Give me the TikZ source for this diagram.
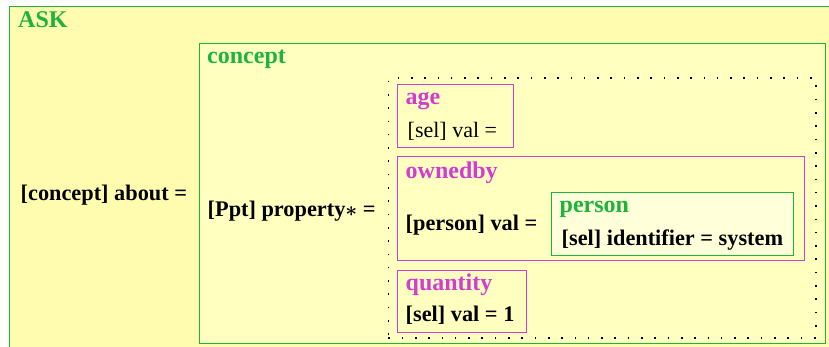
\documentclass[tikz,border=0pt]{standalone}
\usepackage{fontspec}
\setmainfont{Liberation Serif}
\definecolor{askfill}{RGB}{255,252,176}
\definecolor{conceptfill}{RGB}{255,255,192}
\definecolor{personfill}{RGB}{255,255,218}
\definecolor{grn}{RGB}{30,180,60}
\definecolor{mag}{RGB}{210,60,210}
\tikzset{
  box/.style={rectangle, inner sep=0pt, outer sep=0pt, anchor=north west, line width=1pt},
  greenbox/.style={box, draw=grn},
  magbox/.style={box, draw=mag},
  dotbox/.style={box, draw=black, line width=1.6pt, dash pattern=on 1.6pt off 11.7pt},
  ttl/.style={anchor=base west, inner sep=0pt, font=\fontsize{24}{28}\selectfont\bfseries},
  gttl/.style={ttl, text=grn},
  mttl/.style={ttl, text=mag},
  txt/.style={anchor=base west, inner sep=0pt, font=\fontsize{22.3}{26}\selectfont\bfseries},
  txtr/.style={anchor=base west, inner sep=0pt, font=\fontsize{22}{26}\selectfont}
}
\begin{document}
\begin{tikzpicture}[x=1pt,y=-1pt]
\useasboundingbox (0,0) rectangle (829,347);
\fill[white] (0,0) rectangle (829,347);
\begin{scope}
\clip (0,0) rectangle (829,347);
\node[greenbox, fill=askfill, minimum width=830pt, minimum height=350pt] (ask) at (9.5,6.5) {};
\end{scope}
\node[gttl] (asktitle) at (18,28) {ASK};
\node[txt] (about) at (20.5,200.5) {[concept] about =};
\node[greenbox, fill=conceptfill, minimum width=625.5pt, minimum height=299.5pt] (concept) at (199.5,43.5) {};
\node[gttl] (concepttitle) at (207,63.5) {concept};
\node[txt] (property) at (207.5,216.5) {[Ppt] property{\boldmath$\ast$} =};
\node[dotbox, minimum width=427.7pt, minimum height=259.4pt] (list) at (388.3,78.3) {};
% age
\node[magbox, minimum width=116pt, minimum height=63pt] (age) at (397.3,84.3) {};
\node[mttl] (agetitle) at (405.5,105) {age};
\node[txtr] (ageval) at (407.5,138) {[sel] val =};
% ownedby
\node[magbox, minimum width=407pt, minimum height=103.3pt] (ownedby) at (397.3,156.7) {};
\node[mttl] (ownedbytitle) at (405.5,178.3) {ownedby};
\node[txt] (personval) at (405.5,230) {[person] val =};
\node[greenbox, fill=personfill, minimum width=242pt, minimum height=63pt] (person) at (551.7,192.3) {};
\node[gttl] (persontitle) at (559.5,212.3) {person};
\node[txt] (ident) at (561.5,246) {[sel] identifier = system};
% quantity
\node[magbox, minimum width=129.4pt, minimum height=62pt] (quantity) at (397.3,270.3) {};
\node[mttl] (quantitytitle) at (405.5,290) {quantity};
\node[txt] (qval) at (405.5,321.5) {[sel] val = 1};
\end{tikzpicture}
\end{document}
